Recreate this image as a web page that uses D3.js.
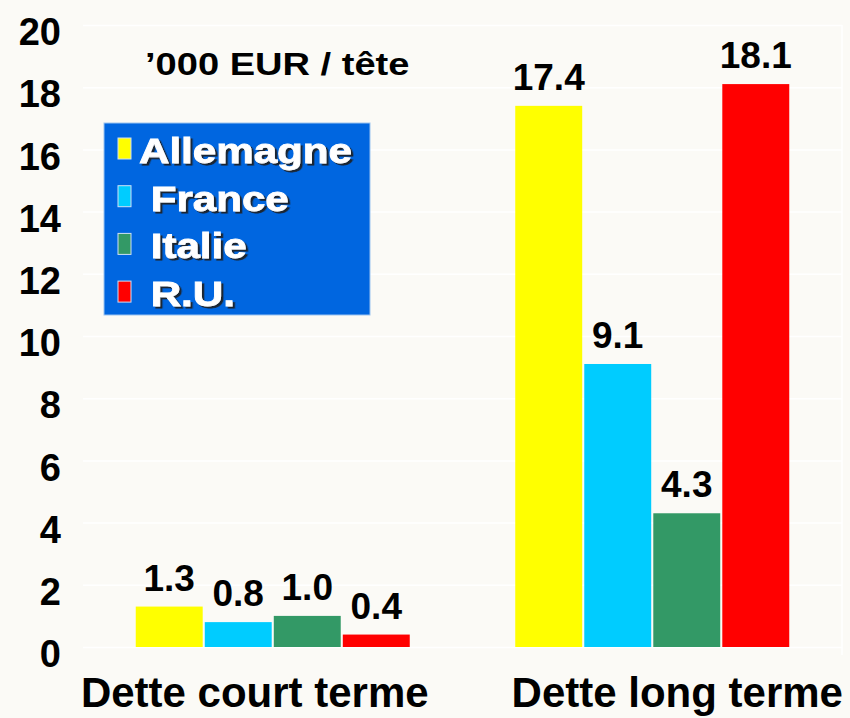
<!DOCTYPE html>
<html>
<head>
<meta charset="utf-8">
<script src="https://cdn.jsdelivr.net/npm/d3@7"></script>
<style>
  body { margin: 0; background: #fbfaf6; }
  svg { display: block; font-family: "Liberation Sans", Arial, sans-serif; font-weight: bold; }
  .legend text { white-space: pre; }
</style>
</head>
<body>
<svg width="850" height="718"></svg>
<script>
// chart values
var categories = ['Dette court terme', 'Dette long terme'];
var countries = ['Allemagne', 'France', 'Italie', 'R.U.'];
var legendLabels = ['Allemagne', ' France', ' Italie', ' R.U.'];
var colors = ['#ffff00', '#00ccff', '#339966', '#ff0000'];
var courtTerme = [1.3, 0.8, 1.0, 0.4];
var longTerme = [17.4, 9.1, 4.3, 18.1];
var yTicks = [0, 2, 4, 6, 8, 10, 12, 14, 16, 18, 20];
var unitLabel = '\u2019000 EUR / t\u00eate';

let drawChart = () => {
    var svg = d3.select('svg');
    var left = 83, right = 842, top = 25, bottom = 647;

    var defs = svg.append('defs');
    defs.append('filter')
        .attr('id', 'shadow')
        .attr('x', '-10%').attr('y', '-20%')
        .attr('width', '130%').attr('height', '150%')
        .append('feDropShadow')
        .attr('dx', 2).attr('dy', 2)
        .attr('stdDeviation', 0.6)
        .attr('flood-color', '#1a1a1a')
        .attr('flood-opacity', 0.9);

    var series = [courtTerme, longTerme];
    var data = [];
    categories.forEach(function(c, i) {
        countries.forEach(function(k, j) {
            data.push({cat: c, country: k, value: series[i][j]});
        });
    });

    var yScale = d3.scaleLinear()
        .domain([0, 20])
        .range([bottom, top]);

    var xScale = d3.scaleBand()
        .domain(categories)
        .range([left, right])
        .paddingInner(0.278)
        .paddingOuter(0.139);

    var xInner = d3.scaleBand()
        .domain(countries)
        .range([0, xScale.bandwidth()])
        .paddingInner(0.03);

    var colorScale = d3.scaleOrdinal()
        .domain(countries)
        .range(colors);

    // faint grid
    var grid = svg.append('g')
        .attr('transform', 'translate(' + left + ',0)')
        .call(d3.axisLeft(yScale).tickValues(yTicks).tickSize(-(right - left)).tickFormat(''));
    grid.select('.domain').remove();
    grid.selectAll('line').attr('stroke', '#ffffff').attr('stroke-width', 1.5);
    svg.append('line')
        .attr('x1', right).attr('x2', right)
        .attr('y1', top).attr('y2', bottom + 8)
        .attr('stroke', '#ffffff').attr('stroke-width', 1.5);

    // y axis labels
    var yAxis = svg.append('g')
        .attr('transform', 'translate(' + left + ',0)')
        .call(d3.axisLeft(yScale).tickValues(yTicks).tickSize(0).tickPadding(22));
    yAxis.select('.domain').remove();
    yAxis.selectAll('text')
        .attr('dy', '0.52em')
        .attr('fill', '#000')
        .style('font-size', '38px')
        .style('font-weight', 'bold')
        .style('font-family', '"Liberation Sans", Arial, sans-serif');

    // x axis labels
    var xAxis = svg.append('g')
        .attr('transform', 'translate(0,' + bottom + ')')
        .call(d3.axisBottom(xScale).tickSize(0).tickPadding(30));
    xAxis.select('.domain').remove();
    xAxis.selectAll('text')
        .attr('dx', function(d, i) { return i ? 25 : -18; })
        .attr('fill', '#000')
        .style('font-size', '42px')
        .style('font-weight', 'bold')
        .style('font-family', '"Liberation Sans", Arial, sans-serif');

    // bars
    svg.append('g')
        .selectAll('rect')
        .data(data)
        .enter()
        .append('rect')
            .attr('x', function(d) { return xScale(d.cat) + xInner(d.country); })
            .attr('y', function(d) { return yScale(d.value); })
            .attr('width', xInner.bandwidth())
            .attr('height', function(d) { return yScale(0) - yScale(d.value); })
            .attr('fill', function(d) { return colorScale(d.country); });

    // value labels
    svg.append('g')
        .selectAll('text')
        .data(data)
        .enter()
        .append('text')
            .attr('x', function(d) { return xScale(d.cat) + xInner(d.country) + xInner.bandwidth() / 2; })
            .attr('y', function(d) { return yScale(d.value) - 16; })
            .attr('text-anchor', 'middle')
            .style('font-size', '37px')
            .text(function(d) { return d.value.toFixed(1); });

    // unit label
    svg.append('text')
        .attr('transform', 'translate(145,75) scale(1.19,1)')
        .style('font-size', '32px')
        .text(unitLabel);

    // legend
    var legend = svg.append('g')
        .attr('class', 'legend')
        .attr('transform', 'translate(104,123)');
    legend.append('rect')
        .attr('width', 266)
        .attr('height', 192)
        .attr('fill', '#0066e0')
        .attr('stroke', '#9cc3f0')
        .attr('stroke-width', 1);
    var rows = legend.selectAll('g.row')
        .data(countries)
        .enter()
        .append('g')
        .attr('class', 'row')
        .attr('transform', function(d, i) { return 'translate(0,' + (15 + i * 47.7) + ')'; });
    rows.append('rect')
        .attr('x', 14)
        .attr('width', 13)
        .attr('height', 21)
        .attr('fill', function(d) { return colorScale(d); })
        .attr('stroke', '#cfe0f5')
        .attr('stroke-width', 1);
    rows.append('text')
        .attr('transform', 'translate(35,25) scale(1.17,1)')
        .attr('fill', '#ffffff')
        .attr('stroke', '#ffffff')
        .attr('stroke-width', 0.8)
        .attr('filter', 'url(#shadow)')
        .style('font-size', '36px')
        .text(function(d, i) { return legendLabels[i]; });
}

drawChart();
</script>
</body>
</html>
